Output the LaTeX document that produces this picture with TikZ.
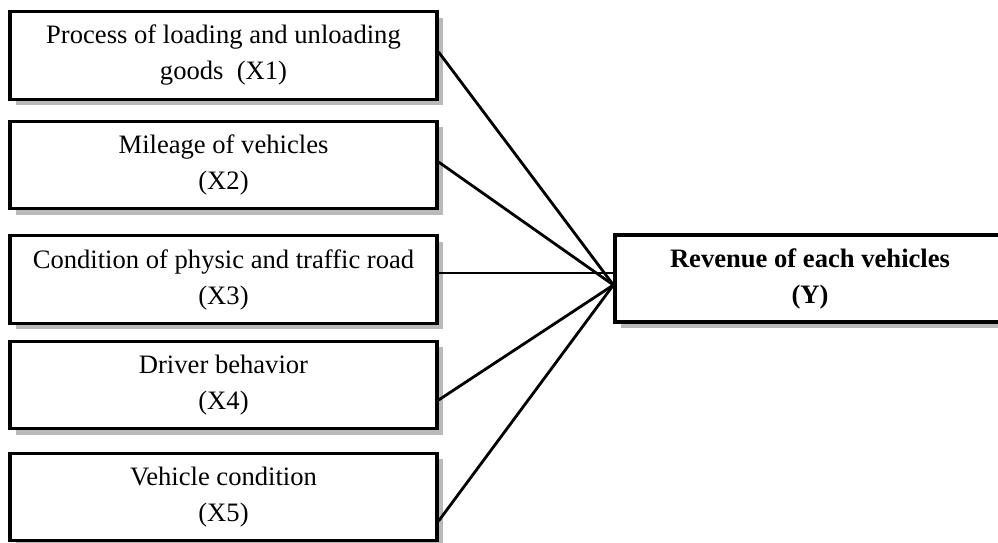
\documentclass[tikz,border=0pt]{standalone}
\usepackage{fontspec}
\setmainfont{Liberation Serif}
\usetikzlibrary{shadows}
\begin{document}
\begin{tikzpicture}[x=1pt,y=-1pt,
  boxshadow/.style={drop shadow={shadow xshift=6pt, shadow yshift=-6pt, fill=gray!55, opacity=1}},
  factor/.style={draw, line width=3.2pt, fill=white, boxshadow,
    minimum width=427pt, minimum height=87.5pt, inner sep=0pt, align=center,
    font=\fontsize{26.6}{36}\selectfont},
  outcome/.style={factor, minimum width=390pt, minimum height=87pt,
    font=\fontsize{26.6}{36}\selectfont\bfseries},
  link/.style={line width=2.8pt}
]
\clip (0,0) rectangle (998,543);
\fill[white] (0,0) rectangle (998,543);

% factor boxes
\node[factor] (b1) at (223.5,55.5) {Process of loading and unloading\\goods~ (X1)};
\node[factor] (b2) at (223.5,165)  {Mileage of vehicles\\(X2)};
\node[factor] (b3) at (223.5,279.5) {Condition of physic and traffic road\\(X3)};
\node[factor] (b4) at (223.5,385)  {Driver behavior\\(X4)};
\node[factor] (b5) at (223.5,497)  {Vehicle condition\\(X5)};

% outcome box
\node[outcome] (by) at (810,278.5) {Revenue of each vehicles\\(Y)};

% connectors meeting at the left side of the outcome box
\coordinate (conv) at ([yshift=-6.5pt]by.west);
\coordinate (s3) at ([yshift=6.5pt]b3.east);
\draw[link] ([yshift=3.5pt]b1.east) -- (conv);
\draw[link] ([yshift=3pt]b2.east) -- (conv);
\draw[link] (s3) -- (s3 -| by.west);
\draw[link] ([yshift=-15pt]b4.east) -- (conv);
\draw[link] ([yshift=-24pt]b5.east) -- (conv);
\end{tikzpicture}
\end{document}
